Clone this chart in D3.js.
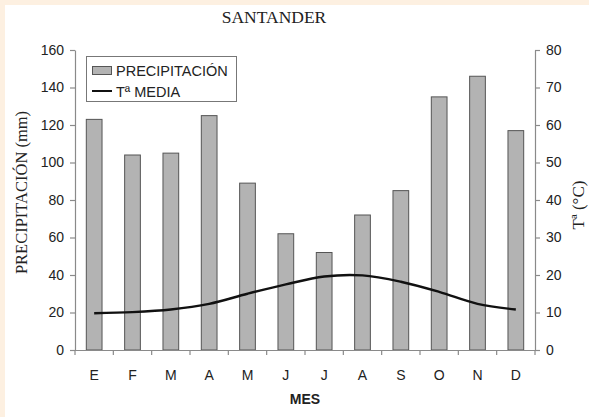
<!DOCTYPE html>
<html>
<head>
<meta charset="utf-8">
<script src="https://cdn.jsdelivr.net/npm/d3@7"></script>
<style>
  html, body { margin: 0; padding: 0; background: #ffffff; }
  svg { display: block; }
</style>
</head>
<body>
<svg id="chart" width="589" height="417"></svg>
<script>
const months = ["E", "F", "M", "A", "M", "J", "J", "A", "S", "O", "N", "D"];
const precipitation = [123, 104, 105, 125, 89, 62, 52, 72, 85, 135, 146, 117];
const temperature = [9.8, 10.1, 10.8, 12.3, 15.0, 17.5, 19.6, 19.9, 18.2, 15.5, 12.3, 10.8];
const precipTicks = [0, 20, 40, 60, 80, 100, 120, 140, 160];
const tempTicks = [0, 10, 20, 30, 40, 50, 60, 70, 80];

(function () {
const svg = d3.select("#chart");
const W = 589, H = 417;
const mLeft = 75, mRight = 535, mTop = 50, mBottom = 350;

svg.append("rect").attr("x", 0).attr("y", 0).attr("width", W).attr("height", H).attr("fill", "#fdf0e1");
svg.append("rect").attr("x", 5).attr("y", 5).attr("width", W - 5).attr("height", H - 5).attr("fill", "#ffffff");

const idx = months.map((d, i) => i);
const x = d3.scaleBand().domain(idx).range([mLeft, mRight]).padding(0);
const yP = d3.scaleLinear().domain([0, 160]).range([mBottom, mTop]);
const yT = d3.scaleLinear().domain([0, 80]).range([mBottom, mTop]);

const axisColor = "#8a8a8a";
const textColor = "#222";
const sans = "'Liberation Sans', Arial, sans-serif";
const serif = "'Liberation Serif', 'Times New Roman', serif";

const bw = x.bandwidth() * 0.41;
svg.append("g").selectAll("rect").data(precipitation).join("rect")
  .attr("x", (d, i) => x(i) + x.bandwidth() / 2 - bw / 2)
  .attr("y", d => yP(d))
  .attr("width", bw)
  .attr("height", d => yP(0) - yP(d))
  .attr("fill", "#b3b3b3")
  .attr("stroke", "#555")
  .attr("stroke-width", 1);

const line = d3.line()
  .x((d, i) => x(i) + x.bandwidth() / 2)
  .y(d => yT(d))
  .curve(d3.curveCatmullRom.alpha(0.5));
svg.append("path").datum(temperature)
  .attr("d", line)
  .attr("fill", "none")
  .attr("stroke", "#111")
  .attr("stroke-width", 2.4);

function styleAxis(g) {
  g.selectAll(".domain").attr("stroke", axisColor).attr("stroke-width", 1.2);
  g.selectAll(".tick line").attr("stroke", axisColor).attr("stroke-width", 1.2);
  g.selectAll(".tick text").attr("fill", textColor).style("font-family", sans).style("font-size", "14px");
}

const gL = svg.append("g").attr("transform", `translate(${mLeft},0)`)
  .call(d3.axisLeft(yP).tickValues(precipTicks).tickSize(5).tickSizeOuter(0).tickPadding(6));
styleAxis(gL);

const gR = svg.append("g").attr("transform", `translate(${mRight},0)`)
  .call(d3.axisRight(yT).tickValues(tempTicks).tickSize(5).tickSizeOuter(0).tickPadding(6));
styleAxis(gR);

const gB = svg.append("g").attr("transform", `translate(0,${mBottom})`)
  .call(d3.axisBottom(x).tickSize(0).tickPadding(20).tickFormat(i => months[i]));
styleAxis(gB);
gB.select(".domain").attr("d", `M${mLeft - 4},0.5H${mRight + 4}`);
const bounds = idx.map(i => x(i)).concat([mRight]);
gB.selectAll(".bline").data(bounds).join("line").attr("class", "bline")
  .attr("x1", d => d).attr("x2", d => d).attr("y1", 0).attr("y2", 5)
  .attr("stroke", axisColor).attr("stroke-width", 1.2);

svg.append("text").attr("x", 274).attr("y", 23).attr("text-anchor", "middle")
  .style("font-family", serif).style("font-size", "17.5px").attr("fill", textColor)
  .text("SANTANDER");

svg.append("text").attr("transform", "translate(27,192.5) rotate(-90)").attr("text-anchor", "middle")
  .style("font-family", serif).style("font-size", "16.5px").attr("fill", textColor)
  .text("PRECIPITACIÓN (mm)");
svg.append("text").attr("transform", "translate(584,205) rotate(-90)").attr("text-anchor", "middle")
  .style("font-family", serif).style("font-size", "17px").attr("fill", textColor)
  .text("Tª (°C)");
svg.append("text").attr("x", 305).attr("y", 404).attr("text-anchor", "middle")
  .style("font-family", sans).style("font-size", "14px").style("font-weight", "bold").attr("fill", textColor)
  .text("MES");

const lg = svg.append("g");
lg.append("rect").attr("x", 86.5).attr("y", 56.5).attr("width", 150).attr("height", 45)
  .attr("fill", "#fff").attr("stroke", "#777").attr("stroke-width", 1);
lg.append("rect").attr("x", 92.5).attr("y", 66.5).attr("width", 19).attr("height", 8)
  .attr("fill", "#b3b3b3").attr("stroke", "#555");
lg.append("text").attr("x", 116).attr("y", 76).style("font-family", sans).style("font-size", "14.5px")
  .attr("fill", textColor).text("PRECIPITACIÓN");
lg.append("line").attr("x1", 92).attr("x2", 112).attr("y1", 91).attr("y2", 91)
  .attr("stroke", "#111").attr("stroke-width", 2);
lg.append("text").attr("x", 116).attr("y", 96.5).style("font-family", sans).style("font-size", "14.5px")
  .attr("fill", textColor).text("Tª MEDIA");
})();
</script>
</body>
</html>
